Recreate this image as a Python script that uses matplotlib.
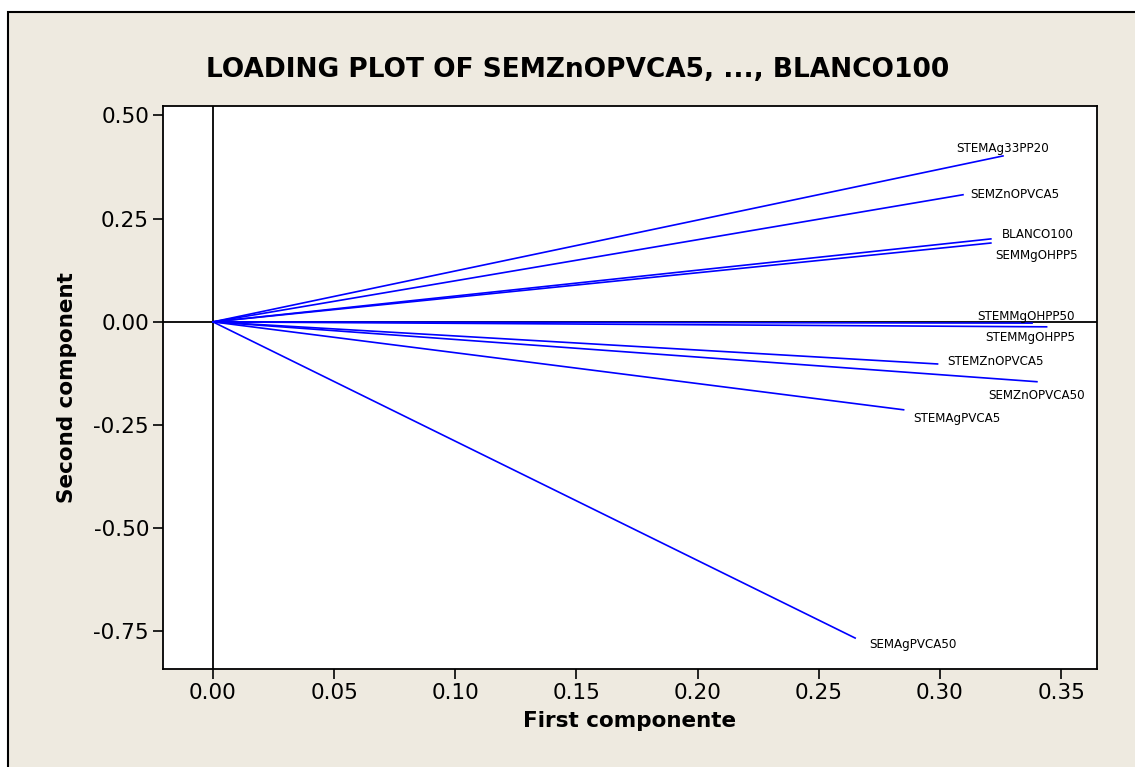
import matplotlib
matplotlib.use("Agg")
from matplotlib import pyplot as plt
from matplotlib.patches import Rectangle
import numpy as np

# loadings
variables = ['STEMAg33PP20', 'SEMZnOPVCA5', 'BLANCO100', 'SEMMgOHPP5',
             'STEMMgOHPP50', 'STEMMgOHPP5', 'STEMZnOPVCA5', 'SEMZnOPVCA50',
             'STEMAgPVCA5', 'SEMAgPVCA50']
first = [0.326, 0.3095, 0.321, 0.321, 0.338, 0.344, 0.299, 0.340, 0.285, 0.265]
second = [0.402, 0.308, 0.201, 0.191, -0.003, -0.012, -0.102, -0.145, -0.213, -0.766]

xticks = [0.00, 0.05, 0.10, 0.15, 0.20, 0.25, 0.30, 0.35]
yticks = [-0.75, -0.50, -0.25, 0.00, 0.25, 0.50]

# label offsets in points (dx, dy, ha)
offsets = {
    'STEMAg33PP20': (0, 5, 'center'),
    'SEMZnOPVCA5': (5, 0, 'left'),
    'BLANCO100': (8, 3, 'left'),
    'SEMMgOHPP5': (3, -9, 'left'),
    'STEMMgOHPP50': (-4, 5, 'center'),
    'STEMMgOHPP5': (-12, -8, 'center'),
    'STEMZnOPVCA5': (7, 2, 'left'),
    'SEMZnOPVCA50': (0, -10, 'center'),
    'STEMAgPVCA5': (7, -6, 'left'),
    'SEMAgPVCA50': (10, -5, 'left'),
}

bg = '#eeeae0'
fig = plt.figure(figsize=(11.35, 7.67), dpi=100)
fig.patch.set_facecolor('white')
fig.patches.append(Rectangle((8 / 1135, -0.01), 1.0, 1 - 12 / 767 + 0.01,
                             transform=fig.transFigure, facecolor=bg,
                             edgecolor='black', linewidth=1.5, zorder=-10))

ax = fig.add_axes([163 / 1135, 1 - 669 / 767, (1097 - 163) / 1135, (669 - 106) / 767])
ax.set_facecolor('white')
ax.set_xlim(-0.0206, 0.3648)
ax.set_ylim(-0.841, 0.523)

ax.axhline(0, color='black', lw=1.3, zorder=1)
ax.axvline(0, color='black', lw=1.3, zorder=1)

for name, x, y in zip(variables, first, second):
    ax.plot([0, x], [0, y], color='#0000ff', lw=1.2, zorder=2)
    dx, dy, ha = offsets[name]
    ax.annotate(name, (x, y), xytext=(dx, dy), textcoords='offset points',
                ha=ha, va='center', fontsize=8.6, color='black')

ax.set_xticks(xticks)
ax.set_xticklabels([f'{t:.2f}' for t in xticks])
ax.set_yticks(yticks)
ax.set_yticklabels([f'{t:.2f}' for t in yticks])
ax.tick_params(labelsize=15.5, length=7, width=1.2, direction='out', pad=3)
for s in ax.spines.values():
    s.set_linewidth(1.3)

ax.set_xlabel('First componente', fontsize=15.5, fontweight='bold', labelpad=6)
ax.set_ylabel('Second component', fontsize=15.5, fontweight='bold', labelpad=12)
fig.text(578 / 1135, 1 - 70 / 767,
         'LOADING PLOT OF SEMZnOPVCA5, ..., BLANCO100',
         ha='center', va='center', fontsize=19, fontweight='bold')

fig.savefig('out.png', dpi=100, facecolor=fig.get_facecolor())
